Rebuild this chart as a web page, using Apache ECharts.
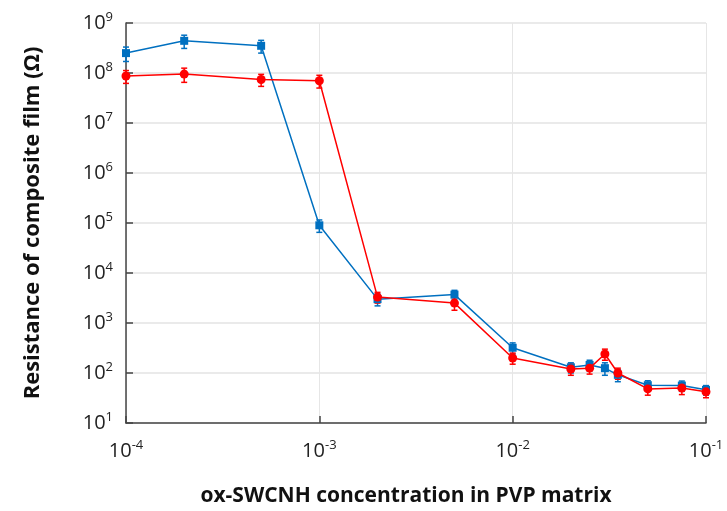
<!DOCTYPE html>
<html>
<head>
<meta charset="utf-8">
<script src="https://cdn.jsdelivr.net/npm/echarts@6/dist/echarts.min.js"></script>
<style>html,body{margin:0;padding:0;background:#fff}#c{width:727px;height:511px}</style>
</head>
<body>
<div id="c"></div>
<script>
const concentrations = [1e-4, 2e-4, 5e-4, 1e-3, 2e-3, 5e-3, 1e-2, 2e-2, 2.5e-2, 3e-2, 3.5e-2, 5e-2, 7.5e-2, 1e-1];
const blueValues = [2.5e8, 4.4e8, 3.5e8, 9e4, 3.0e3, 3.7e3, 320, 130, 145, 125, 92, 57, 56, 46];
const blueErrors = [8e7, 1.3e8, 1.0e8, 2.5e4, 8e2, 8e2, 80, 30, 35, 35, 25, 13, 13, 10];
const redValues = [8.7e7, 9.5e7, 7.4e7, 7.0e7, 3.3e3, 2.5e3, 200, 120, 125, 240, 100, 48, 50, 42];
const redErrors = [2.5e7, 3e7, 2e7, 2e7, 8e2, 7e2, 50, 30, 30, 60, 25, 12, 13, 10];
const xTickExponents = [-4, -3, -2, -1];
const yTickExponents = [1, 2, 3, 4, 5, 6, 7, 8, 9];
const xTitle = 'ox-SWCNH concentration in PVP matrix';
const yTitle = 'Resistance of composite film (Ω)';

const BLUE = '#0070C0', RED = '#FF0000';
const FONT = '"Open Sans", "Liberation Sans", sans-serif';

function supFmt(v) {
  const e = Math.round(Math.log10(v));
  return '{b|10}{s|' + e + '}';
}
const richLab = {
  b: {fontSize: 20, color: '#222', fontFamily: FONT},
  s: {fontSize: 13, color: '#222', fontFamily: FONT, verticalAlign: 'bottom', padding: [0, 0, 11, 0]}
};

function pairs(vals) { return concentrations.map((c, i) => [c, vals[i]]); }
function errData(vals, errs) { return concentrations.map((c, i) => [c, vals[i] - errs[i], vals[i] + errs[i]]); }

function errRender(color) {
  return function (params, api) {
    const x = api.value(0);
    const p1 = api.coord([x, api.value(2)]);
    const p2 = api.coord([x, api.value(1)]);
    const w = 3;
    const st = {stroke: color, lineWidth: 1.5};
    return {
      type: 'group',
      children: [
        {type: 'line', shape: {x1: p1[0], y1: p1[1], x2: p2[0], y2: p2[1]}, style: st},
        {type: 'line', shape: {x1: p1[0] - w, y1: p1[1], x2: p1[0] + w, y2: p1[1]}, style: st},
        {type: 'line', shape: {x1: p2[0] - w, y1: p2[1], x2: p2[0] + w, y2: p2[1]}, style: st}
      ]
    };
  };
}

const chart = echarts.init(document.getElementById('c'));
chart.setOption({
  animation: false,
  backgroundColor: '#fff',
  grid: {left: 126, right: 21, top: 23, bottom: 88, containLabel: false, outerBoundsMode: 'none'},
  xAxis: {
    type: 'log', logBase: 10, min: 1e-4, max: 1e-1,
    name: xTitle, nameLocation: 'middle', nameGap: 63,
    nameTextStyle: {fontSize: 21, fontWeight: 'bold', color: '#111', fontFamily: FONT, padding: [0, 20, 0, 0]},
    axisLine: {lineStyle: {color: '#444', width: 1.5}},
    axisTick: {inside: true, length: 7, lineStyle: {color: '#444', width: 1.5}},
    splitLine: {show: true, lineStyle: {color: '#e6e6e6', width: 1}},
    minorTick: {show: false},
    axisLabel: {margin: 16, formatter: supFmt, rich: richLab,
      customValues: xTickExponents.map(e => Math.pow(10, e))}
  },
  yAxis: {
    type: 'log', logBase: 10, min: 10, max: 1e9,
    name: yTitle, nameLocation: 'middle', nameGap: 82, nameRotate: 90,
    nameTextStyle: {fontSize: 22, fontWeight: 'bold', color: '#111', fontFamily: FONT},
    axisLine: {lineStyle: {color: '#444', width: 1.5}},
    axisTick: {inside: true, length: 7, lineStyle: {color: '#444', width: 1.5}},
    splitLine: {show: true, lineStyle: {color: '#e3e3e3', width: 1.5}},
    axisLabel: {margin: 13, formatter: supFmt, rich: richLab,
      customValues: yTickExponents.map(e => Math.pow(10, e))}
  },
  series: [
    {type: 'custom', name: 'blueErr', data: errData(blueValues, blueErrors), renderItem: errRender(BLUE), encode: {x: 0, y: [1, 2]}, z: 2},
    {type: 'custom', name: 'redErr', data: errData(redValues, redErrors), renderItem: errRender(RED), encode: {x: 0, y: [1, 2]}, z: 3},
    {type: 'line', name: 'blue', data: pairs(blueValues), symbol: 'rect', symbolSize: 8,
      lineStyle: {color: BLUE, width: 1.5}, itemStyle: {color: BLUE}, z: 4},
    {type: 'line', name: 'red', data: pairs(redValues), symbol: 'circle', symbolSize: 9,
      lineStyle: {color: RED, width: 1.5}, itemStyle: {color: RED}, z: 5}
  ]
});
</script>
</body>
</html>
